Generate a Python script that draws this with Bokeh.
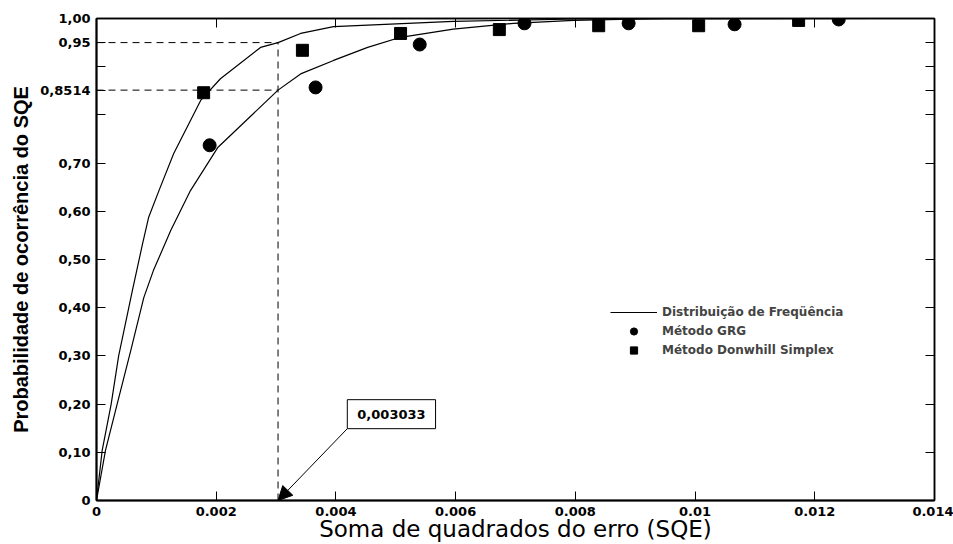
from bokeh.plotting import figure
from bokeh.models import (LinearAxis, FixedTicker, Range1d, Legend, LegendItem,
                          Label, Arrow, NormalHead)
from bokeh.embed import file_html
from bokeh.resources import INLINE

# ---- data ----
upper_x = [0, 0.000095, 0.000245, 0.00037, 0.0006, 0.00077, 0.00087, 0.00105, 0.00129,
           0.00174, 0.00207, 0.00274, 0.003033, 0.00341, 0.00396, 0.00596, 0.008, 0.0131]
upper_y = [0, 0.104, 0.2, 0.3, 0.436, 0.533, 0.587, 0.645, 0.72,
           0.83, 0.875, 0.94, 0.95, 0.969, 0.983, 0.994, 0.999, 1.0]
lower_x = [0, 0.00015, 0.000345, 0.00057, 0.00079, 0.00095, 0.00124, 0.00157, 0.00203,
           0.003033, 0.00341, 0.00396, 0.00453, 0.00508, 0.00596, 0.00697, 0.00797, 0.0095, 0.0131]
lower_y = [0, 0.104, 0.2, 0.31, 0.421, 0.477, 0.56, 0.643, 0.733,
           0.8514, 0.885, 0.913, 0.94, 0.961, 0.978, 0.99, 0.996, 1.0, 1.0]

grg_x = [0.00189, 0.00366, 0.0054, 0.00715, 0.00889, 0.01066, 0.0124]
grg_y = [0.737, 0.857, 0.946, 0.99, 0.99, 0.988, 0.998]
simplex_x = [0.00179, 0.00344, 0.00508, 0.00673, 0.00839, 0.01006, 0.01173]
simplex_y = [0.846, 0.934, 0.969, 0.977, 0.985, 0.985, 0.996]

sqe_value = 0.003033
p_upper = 0.95
p_lower = 0.8514
annot_text = "0,003033"
annot_x, annot_y = 0.00419, 0.149

x_min, x_max = 0, 0.014
x_ticks = [0, 0.002, 0.004, 0.006, 0.008, 0.010, 0.012, 0.014]
x_labels = ["0", "0.002", "0.004", "0.006", "0.008", "0.01", "0.012", "0.014"]
y_ticks = [0, 0.1, 0.2, 0.3, 0.4, 0.5, 0.6, 0.7, 0.8, 0.8514, 0.9, 0.95, 1.0]
y_labels = ["0", "0,10", "0,20", "0,30", "0,40", "0,50", "0,60", "0,70", "",
            "0,8514", "", "0,95", "1,00"]
x_title = "Soma de quadrados do erro (SQE)"
y_title = "Probabilidade de ocorrência do SQE"

FONT = "DejaVu Sans"

p = figure(width=953, height=544, output_backend="svg", toolbar_location=None,
           x_range=Range1d(x_min, x_max), y_range=Range1d(0, 1.0),
           min_border_left=96, min_border_right=19, min_border_top=18, min_border_bottom=44,
           x_axis_location=None, y_axis_location=None)
p.grid.visible = False
p.outline_line_color = "black"
p.outline_line_width = 1.5
p.background_fill_color = "white"
p.border_fill_color = "white"


def style_axis(ax):
    ax.axis_line_color = "black"
    ax.axis_line_width = 2
    ax.major_tick_in = 9
    ax.major_tick_out = 0
    ax.major_tick_line_color = "black"
    ax.major_tick_line_width = 1
    ax.minor_tick_line_color = None
    ax.major_label_text_font = FONT
    ax.major_label_text_font_style = "bold"
    ax.major_label_text_font_size = "13px"
    ax.major_label_text_color = "black"


bottom = LinearAxis(ticker=FixedTicker(ticks=x_ticks),
                    major_label_overrides={t: l for t, l in zip(x_ticks, x_labels)})
style_axis(bottom)
bottom.major_label_standoff = 6
bottom.axis_label = x_title
bottom.axis_label_text_font = FONT
bottom.axis_label_text_font_style = "normal"
bottom.axis_label_text_font_size = "23px"
bottom.axis_label_text_color = "black"
bottom.axis_label_standoff = -3
p.add_layout(bottom, "below")

left = LinearAxis(ticker=FixedTicker(ticks=y_ticks),
                  major_label_overrides={t: l for t, l in zip(y_ticks, y_labels)})
style_axis(left)
left.major_label_standoff = 6
left.axis_label = y_title
left.axis_label_text_font = "Liberation Sans"
left.axis_label_text_font_style = "bold"
left.axis_label_text_font_size = "20px"
left.axis_label_text_color = "black"
left.axis_label_standoff = 5
p.add_layout(left, "left")

top = LinearAxis(ticker=FixedTicker(ticks=x_ticks))
style_axis(top)
top.axis_line_width = 1.5
top.major_label_text_font_size = "0px"
top.major_label_standoff = 0
p.add_layout(top, "above")

right = LinearAxis(ticker=FixedTicker(ticks=y_ticks))
style_axis(right)
right.axis_line_width = 1.5
right.major_label_text_font_size = "0px"
right.major_label_standoff = 0
p.add_layout(right, "right")

# dashed reference lines
p.line([0, sqe_value], [p_upper, p_upper], line_color="black", line_dash="7 5", line_width=1)
p.line([0, sqe_value], [p_lower, p_lower], line_color="black", line_dash="7 5", line_width=1)
p.line([sqe_value, sqe_value], [0, p_upper], line_color="black", line_dash="7 5", line_width=1)

r_up = p.line(upper_x, upper_y, line_color="black", line_width=1.2)
r_lo = p.line(lower_x, lower_y, line_color="black", line_width=1.2)
r_grg = p.scatter(grg_x, grg_y, marker="circle", size=13, fill_color="black", line_color="black")
r_sim = p.scatter(simplex_x, simplex_y, marker="square", size=12, fill_color="black", line_color="black")

# annotation
p.add_layout(Arrow(end=NormalHead(size=14, fill_color="black", line_color="black"),
                   x_start=annot_x, y_start=annot_y, x_end=sqe_value, y_end=0,
                   line_color="black", line_width=1))
p.add_layout(Label(x=annot_x, y=annot_y, text=annot_text, text_font=FONT,
                   text_font_style="bold", text_font_size="13px", text_color="black",
                   text_align="left", text_baseline="bottom",
                   border_line_color="black", border_line_width=1,
                   background_fill_color="white", padding=10))

legend = Legend(items=[LegendItem(label="Distribuição de Freqüência", renderers=[r_up]),
                       LegendItem(label="Método GRG", renderers=[r_grg]),
                       LegendItem(label="Método Donwhill Simplex", renderers=[r_sim])],
                location=(514, 141), orientation="vertical",
                label_text_font=FONT, label_text_font_style="bold",
                label_text_font_size="12px", label_standoff=5,
                glyph_width=47, glyph_height=18, label_height=18, spacing=1,
                padding=0, margin=0,
                border_line_color=None, background_fill_alpha=0)
p.add_layout(legend, "center")

open("out.html", "w").write(file_html(p, INLINE))
